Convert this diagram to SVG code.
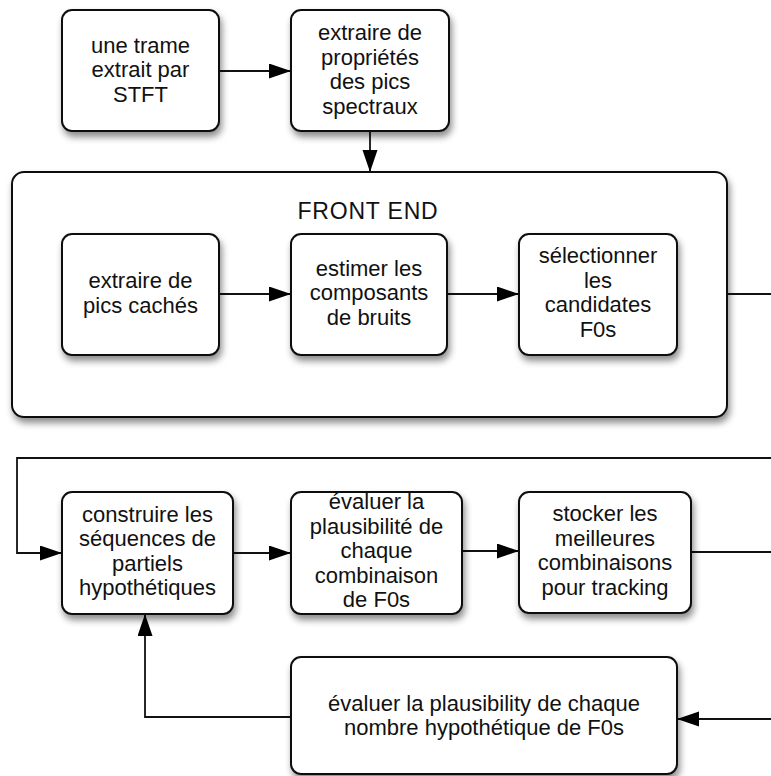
<svg xmlns="http://www.w3.org/2000/svg" width="771" height="776" viewBox="0 0 771 776">
<defs>
<filter id="sh" x="-20%" y="-20%" width="140%" height="150%">
<feDropShadow dx="2" dy="5" stdDeviation="3.5" flood-color="#000" flood-opacity="0.45"/>
</filter>
<marker id="ah" markerUnits="userSpaceOnUse" markerWidth="24" markerHeight="16" refX="22" refY="7.5" orient="auto">
<path d="M0,0 L22,7.5 L0,15 Z" fill="#000"/>
</marker>
<style>
.box{fill:#fff;stroke:#111;stroke-width:2;filter:url(#sh)}
.t{font-family:"Liberation Sans",Arial,sans-serif;font-size:22px;fill:#111;text-anchor:middle}
.h{font-size:23px;letter-spacing:0.8px}
.c{fill:none;stroke:#111;stroke-width:1.8}
</style>
</defs>
<rect width="771" height="776" fill="#fff"/>

<g id="frontend">
<rect class="box" x="12" y="172" width="715" height="245" rx="12"/>
<text class="t h" x="368" y="218.5">FRONT END</text>
</g>

<g id="connectors">
<path class="c" d="M219,71 H291" marker-end="url(#ah)"/>
<path class="c" d="M370,131 V172" marker-end="url(#ah)"/>
<path class="c" d="M219,294 H291" marker-end="url(#ah)"/>
<path class="c" d="M447,294 H519" marker-end="url(#ah)"/>
<path class="c" d="M727,294 H771"/>
<path class="c" d="M771,458 H17 V553 H62" marker-end="url(#ah)"/>
<path class="c" d="M233,553 H291" marker-end="url(#ah)"/>
<path class="c" d="M462,551 H519" marker-end="url(#ah)"/>
<path class="c" d="M691,552 H771"/>
<path class="c" d="M771,719 H677" marker-end="url(#ah)"/>
<path class="c" d="M291,717 H145 V614" marker-end="url(#ah)"/>
</g>

<g id="n1">
<rect class="box" x="62" y="10" width="157" height="121" rx="10"/>
<text class="t" x="140.5" y="52.5">une trame</text>
<text class="t" x="140.5" y="77">extrait par</text>
<text class="t" x="140.5" y="101.5">STFT</text>
</g>

<g id="n2">
<rect class="box" x="291" y="10" width="158" height="121" rx="10"/>
<text class="t" x="370" y="40">extraire de</text>
<text class="t" x="370" y="64.5">propriétés</text>
<text class="t" x="370" y="89">des pics</text>
<text class="t" x="370" y="113.5">spectraux</text>
</g>

<g id="n3">
<rect class="box" x="62" y="234" width="157" height="121" rx="10"/>
<text class="t" x="140.5" y="288">extraire de</text>
<text class="t" x="140.5" y="312.5">pics cachés</text>
</g>

<g id="n4">
<rect class="box" x="291" y="234" width="156" height="121" rx="10"/>
<text class="t" x="369" y="275.5">estimer les</text>
<text class="t" x="369" y="300">composants</text>
<text class="t" x="369" y="324.5">de bruits</text>
</g>

<g id="n5">
<rect class="box" x="519" y="234" width="158" height="121" rx="10"/>
<text class="t" x="598" y="263">sélectionner</text>
<text class="t" x="598" y="287.5">les</text>
<text class="t" x="598" y="312">candidates</text>
<text class="t" x="598" y="336.5">F0s</text>
</g>

<g id="n6">
<rect class="box" x="62" y="492" width="171" height="122" rx="10"/>
<text class="t" x="147.5" y="521.5">construire les</text>
<text class="t" x="147.5" y="546">séquences de</text>
<text class="t" x="147.5" y="570.5">partiels</text>
<text class="t" x="147.5" y="595">hypothétiques</text>
</g>

<g id="n7">
<rect class="box" x="291" y="492" width="171" height="122" rx="10"/>
<text class="t" x="376.5" y="509">évaluer la</text>
<text class="t" x="376.5" y="533.5">plausibilité de</text>
<text class="t" x="376.5" y="558">chaque</text>
<text class="t" x="376.5" y="582.5">combinaison</text>
<text class="t" x="376.5" y="607">de F0s</text>
</g>

<g id="n8">
<rect class="box" x="519" y="492" width="172" height="121" rx="10"/>
<text class="t" x="605" y="521">stocker les</text>
<text class="t" x="605" y="545.5">meilleures</text>
<text class="t" x="605" y="570">combinaisons</text>
<text class="t" x="605" y="594.5">pour tracking</text>
</g>

<g id="n9">
<rect class="box" x="291" y="657" width="386" height="117" rx="10"/>
<text class="t" x="484" y="710.5">évaluer la plausibility de chaque</text>
<text class="t" x="484" y="735">nombre hypothétique de F0s</text>
</g>
</svg>
